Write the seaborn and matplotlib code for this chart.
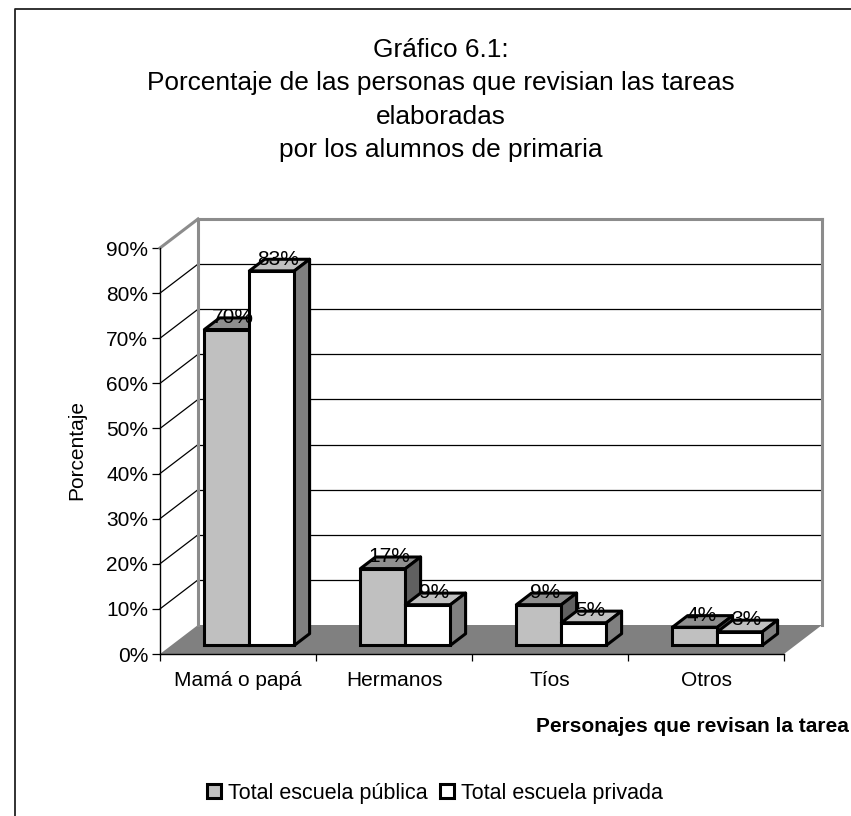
import matplotlib
matplotlib.use("Agg")
import matplotlib.pyplot as plt
from matplotlib.lines import Line2D
from matplotlib.patches import Polygon
from matplotlib.ticker import PercentFormatter
import pandas as pd
import seaborn as sns

categories = ["Mamá o papá", "Hermanos", "Tíos", "Otros"]
publica = [70, 17, 9, 4]
privada = [83, 9, 5, 3]
series_names = ["Total escuela pública", "Total escuela privada"]
title = ("Gráfico 6.1:\nPorcentaje de las personas que revisian las tareas\n"
         "elaboradas\npor los alumnos de primaria")

W, H = 851, 816
FS = 15
sns.set_theme(style="white")
plt.rcParams["font.family"] = ["Liberation Sans", "DejaVu Sans"]

df = pd.DataFrame({
    "cat": categories * 2,
    "serie": [series_names[0]] * 4 + [series_names[1]] * 4,
    "val": publica + privada,
})

fig = plt.figure(figsize=(W / 100, H / 100), dpi=100, facecolor="white")
ax = fig.add_axes([160 / W, (H - 654) / H, 624 / W, 406 / H])
sns.barplot(data=df, x="cat", y="val", hue="serie", order=categories,
            hue_order=series_names, palette=["#c0c0c0", "#ffffff"],
            width=90 / 156, gap=0, edgecolor="black", linewidth=2.2,
            saturation=1, ax=ax, legend=True, zorder=5)
ax.set_xlim(-0.5, 3.5)
ax.set_ylim(0, 90)
ax.set_facecolor("none")

# depth of the pseudo 3D box, expressed in data units
DX = 38 * 4 / 624
DY = 29 * 90 / 406
F0, F1 = 0.3, 0.7
x0, x1 = -0.5, 3.5
WALL = "#8c8c8c"
FLOOR = "#808080"


def line(xs, ys, color="black", lw=0.9, z=1):
    ax.plot(xs, ys, color=color, lw=lw, clip_on=False, zorder=z,
            solid_capstyle="projecting")


# floor
ax.add_patch(Polygon([(x0, 0), (x0 + DX, DY), (x1 + DX, DY), (x1, 0)],
                     closed=True, fc=FLOOR, ec="none", clip_on=False, zorder=1))
# walls and grid
for v in range(10, 90, 10):
    line([x0 + DX, x1 + DX], [v + DY, v + DY])
    line([x0, x0 + DX], [v, v + DY])
line([x0 + DX, x0 + DX], [DY, 90 + DY], WALL, 2.2, 2)
line([x1 + DX, x1 + DX], [DY, 90 + DY], WALL, 2.2, 2)
line([x0 + DX, x1 + DX], [90 + DY, 90 + DY], WALL, 2.2, 2)
line([x0, x0 + DX], [90, 90 + DY], WALL, 2.2, 2)

# bars: shift the fronts into the depth and add their top and side faces
face_colors = [("#8f8f8f", "#606060"), ("#c0c0c0", "#808080")]
z = 5
for container, (top_c, side_c) in zip(ax.containers, face_colors):
    for bar in container:
        bar.set_x(bar.get_x() + F0 * DX)
        bar.set_y(F0 * DY)
        bar.set_joinstyle("miter")
        bar.set_zorder(z + 0.2)
        xa, xb = bar.get_x(), bar.get_x() + bar.get_width()
        yb, yt = bar.get_y(), bar.get_y() + bar.get_height()
        ddx, ddy = (F1 - F0) * DX, (F1 - F0) * DY
        ax.add_patch(Polygon([(xa, yt), (xa + ddx, yt + ddy), (xb + ddx, yt + ddy), (xb, yt)],
                             closed=True, fc=top_c, ec="black", lw=2.2, zorder=z, joinstyle="round"))
        ax.add_patch(Polygon([(xb, yb), (xb + ddx, yb + ddy), (xb + ddx, yt + ddy), (xb, yt)],
                             closed=True, fc=side_c, ec="black", lw=2.2, zorder=z, joinstyle="round"))
        ax.annotate(f"{bar.get_height():.0f}%", xy=((xa + xb) / 2, yt), xytext=(4.5, 8.5),
                    textcoords="offset points", ha="center", va="center",
                    fontsize=FS, color="black", zorder=20, annotation_clip=False)
    z += 1

# axes
for side in ("top", "right"):
    ax.spines[side].set_visible(False)
for side in ("left", "bottom"):
    ax.spines[side].set_color("black")
    ax.spines[side].set_linewidth(1.0)
    ax.spines[side].set_zorder(4)
ax.set_yticks(range(0, 100, 10))
ax.yaxis.set_major_formatter(PercentFormatter(decimals=0))
ax.set_xticks([x0, 0.5, 1.5, 2.5, x1], minor=True)
ax.tick_params(axis="x", which="major", length=0, pad=12, labelsize=FS, labelcolor="black")
ax.tick_params(axis="x", which="minor", length=5, width=0.9, color="black", bottom=True)
ax.tick_params(axis="y", length=5.5, width=0.9, color="black", left=True, pad=3,
               labelsize=FS, labelcolor="black")
ax.set_ylabel("Porcentaje", fontsize=FS, color="black", labelpad=0, va="center")
ax.yaxis.set_label_coords((77 - 160) / 624, (654 - 450) / 406)
ax.set_xlabel("Personajes que revisan la tarea", fontsize=FS, fontweight="bold",
              color="black", ha="right", va="center")
ax.xaxis.set_label_coords((849 - 160) / 624, -(727 - 654) / 406)

# legend
handles, labels = ax.get_legend_handles_labels()
ax.legend(handles, labels, ncol=2, frameon=False, fontsize=15.5, loc="center",
          bbox_to_anchor=(435 / W, (H - 793) / H), bbox_transform=fig.transFigure,
          handlelength=0.65, handleheight=0.65, handletextpad=0.3, columnspacing=0.6,
          labelcolor="black", borderpad=0, borderaxespad=0)

fig.text(441 / W, (H - 100) / H, title, ha="center", va="center", fontsize=18.9,
         color="black", linespacing=1.49)

# frame of the chart area: only its top and left edges fall inside the picture
fig.add_artist(Line2D([15 / W, 15 / W, 1], [0, (H - 9) / H, (H - 9) / H],
                      transform=fig.transFigure, color="#222222", lw=1.3))
fig.savefig("out.png", dpi=100, facecolor="white")
